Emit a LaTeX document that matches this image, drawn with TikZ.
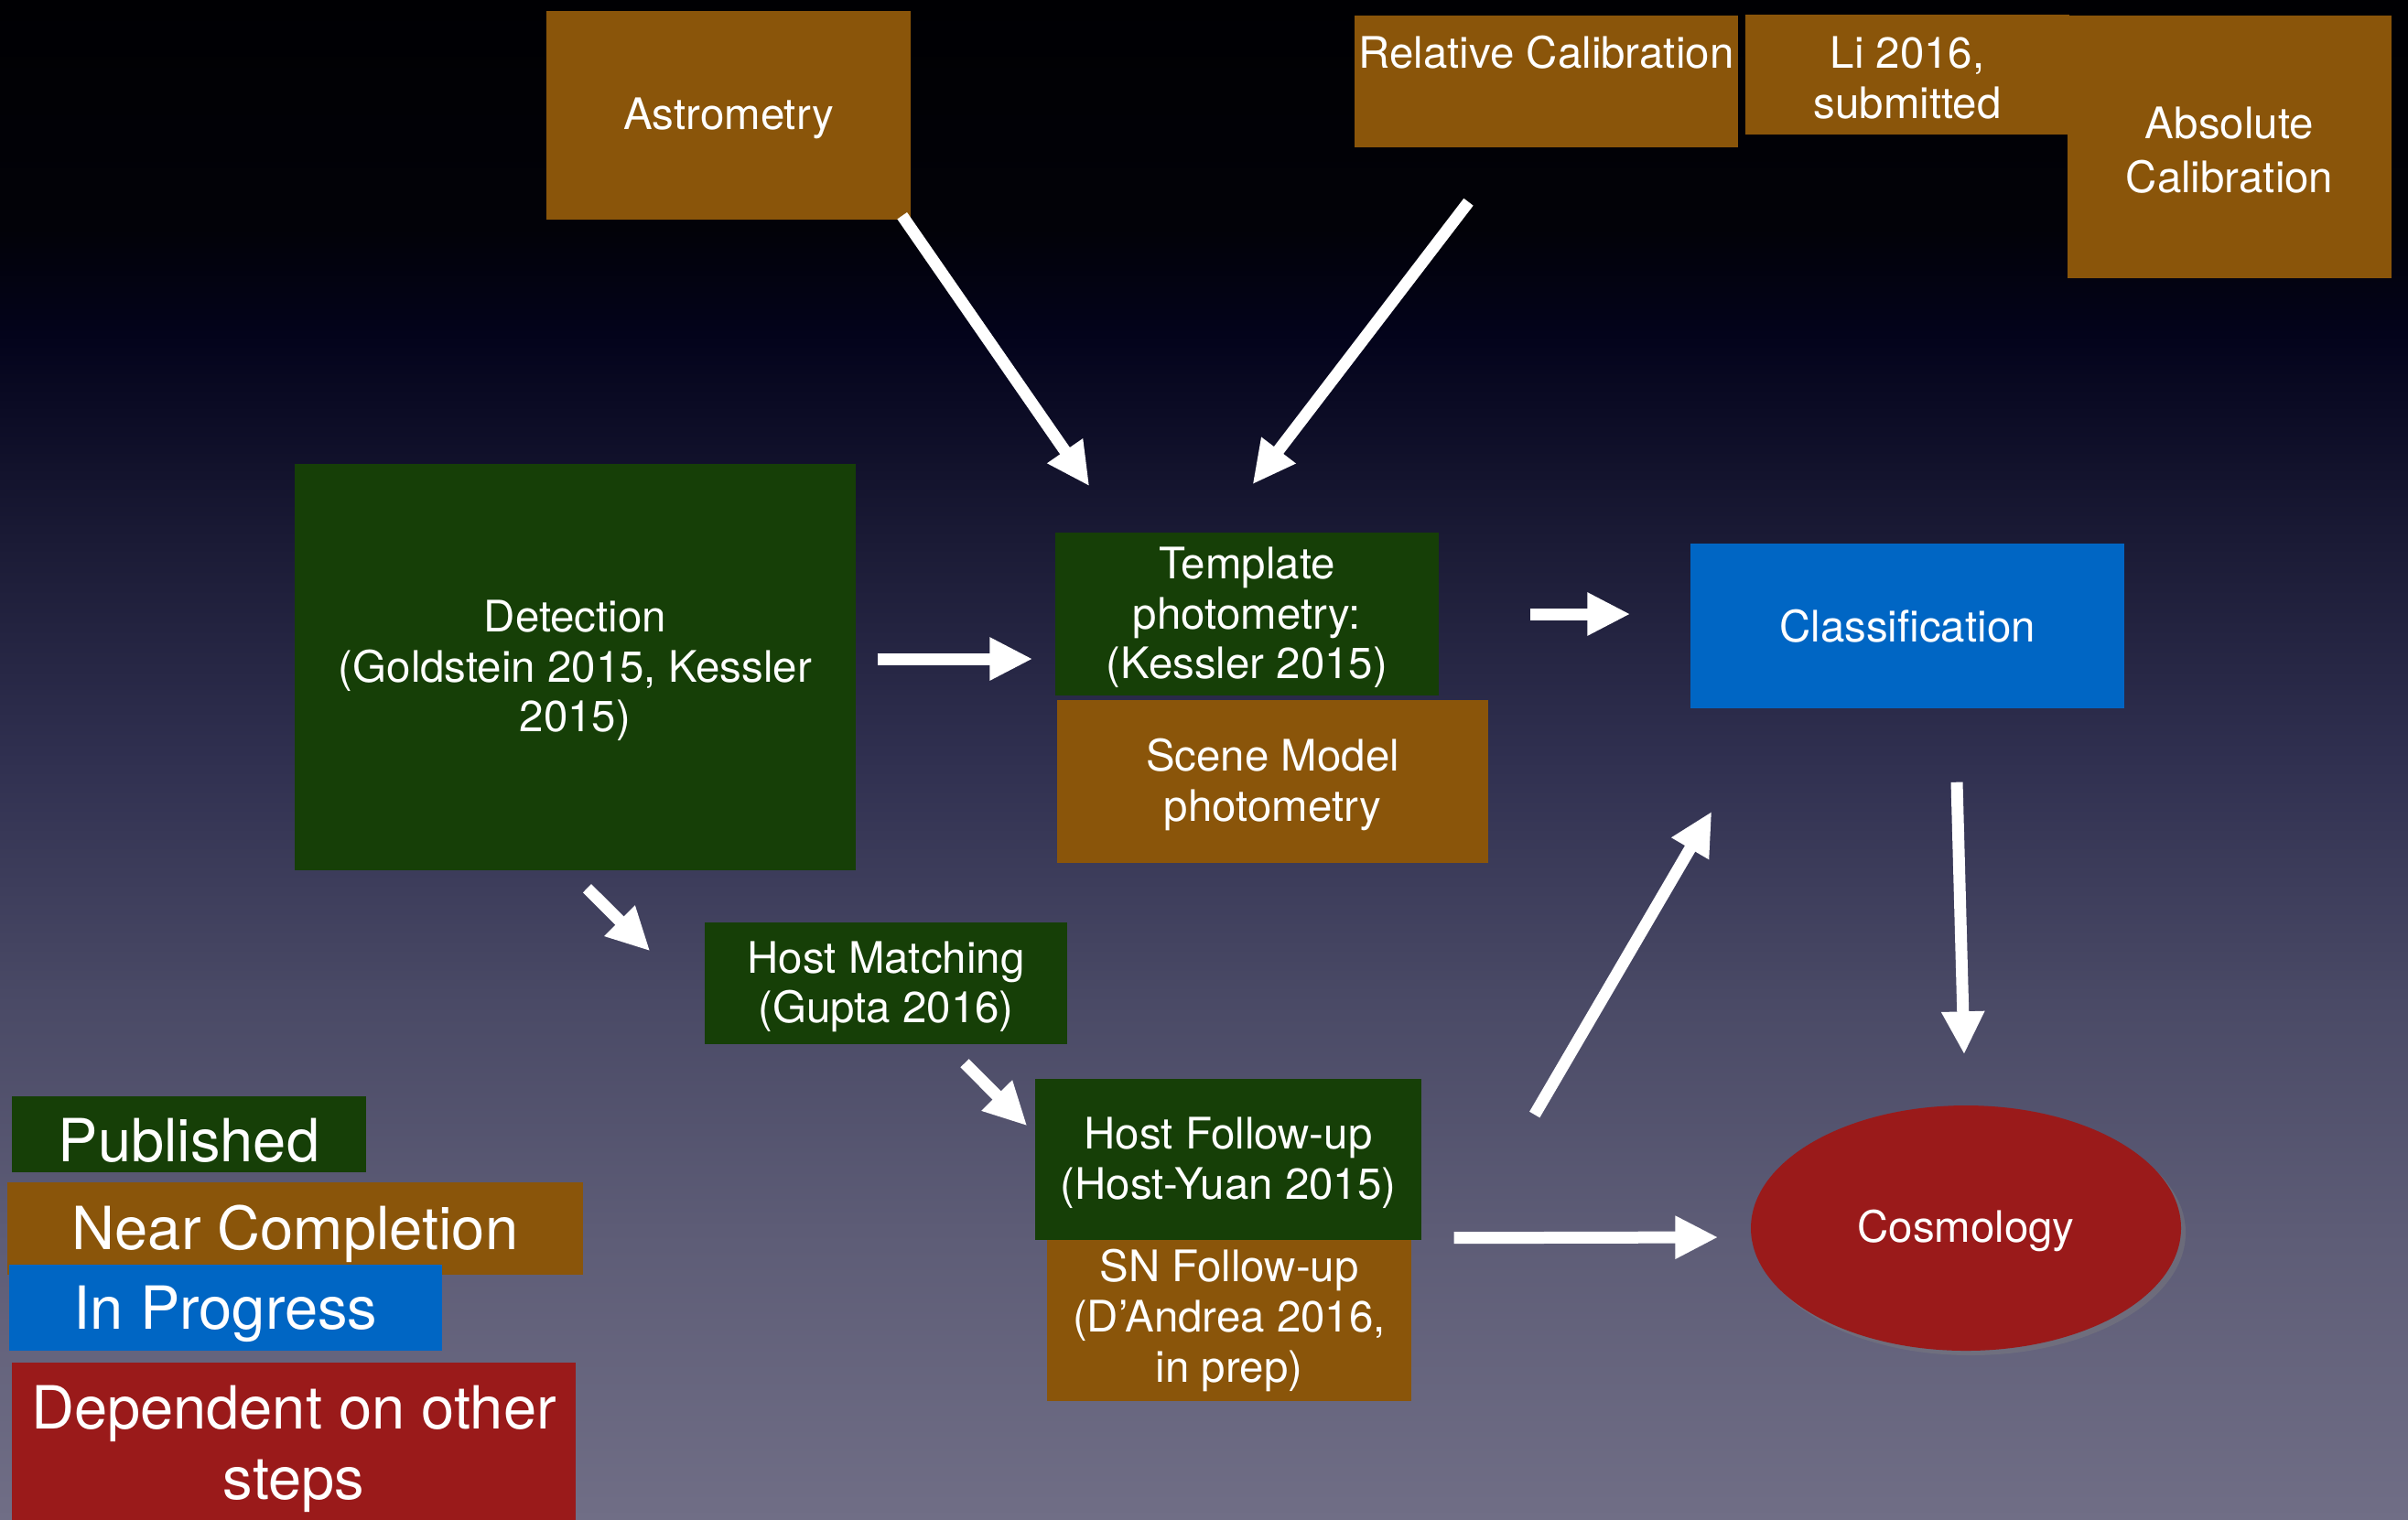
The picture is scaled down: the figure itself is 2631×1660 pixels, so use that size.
\documentclass[tikz,border=0pt]{standalone}
\usepackage{fontspec}
\setmainfont{TeX Gyre Heros}
\usetikzlibrary{arrows.meta,calc,shapes.geometric,shadows}
\definecolor{cPub}{HTML}{163F07}
\definecolor{cNear}{HTML}{8A550A}
\definecolor{cProg}{HTML}{0066C4}
\definecolor{cDep}{HTML}{9A1A1A}
% slide background: the path spans 25bp (bottom) .. 75bp (top)
\pgfdeclareverticalshading{slidebg}{100bp}{%
  rgb(0bp)=(0.439,0.431,0.525); rgb(25bp)=(0.439,0.431,0.525);
  rgb(34.5bp)=(0.365,0.361,0.463); rgb(42bp)=(0.29,0.29,0.4);
  rgb(50bp)=(0.188,0.188,0.314); rgb(57bp)=(0.106,0.106,0.212);
  rgb(64bp)=(0.012,0.012,0.106); rgb(67.5bp)=(0.008,0.008,0.031);
  rgb(75bp)=(0,0,0.012); rgb(100bp)=(0,0,0.012)}

\begin{document}
\begin{tikzpicture}[
  x=0.1mm, y=-0.1mm,
  % -- one box per status: green = published, brown = near, blue = in progress, red = dependent --
  bx/.style={rectangle, inner sep=0pt, text=white, align=center,
             font=\fontsize{13.5}{15.6}\selectfont},
  pub/.style={bx, fill=cPub},
  near/.style={bx, fill=cNear},
  prog/.style={bx, fill=cProg},
  dep/.style={bx, fill=cDep},
  % text sits a little low in its box: pad the text height (1, 2, 3 lines)
  ta/.style={text height=12pt},
  tb/.style={text height=27.6pt},
  tc/.style={text height=43.2pt},
  lg/.style={font=\fontsize{18.5}{22}\selectfont, text height=17.2pt},
  ar/.style={-{Triangle[length=4.7mm,width=4.4mm]}, line width=1.3mm, white},
]
% === canvas: 1 unit = 1 px of the slide (2631 x 1660) ===
\shade[shading=slidebg] (0,0) rectangle (2631,1660);
\useasboundingbox (0,0) rectangle (2631,1660);

% -- inputs at the top --------------------------------------
\node[near, ta, minimum width=39.8mm, minimum height=22.8mm] (astro) at (796,126) {Astrometry};
\node[near, minimum width=41.9mm, minimum height=14.4mm] (relcal) at (1689.5,89) {};
\node[bx] (reltxt) at (1689.5,57) {Relative Calibration};
\node[near, tb, minimum width=35.4mm, minimum height=13.1mm] (li) at (2084,81.5) {Li 2016,\\submitted};
\node[near, minimum width=35.4mm, minimum height=28.7mm, font=\fontsize{13.5}{16.7}\selectfont,
      text height=28.7pt] (abscal) at (2436,160.5) {Absolute\\Calibration};

% -- pipeline ------------------------------------------------
\node[pub, tc, minimum width=61.3mm, minimum height=44.4mm] (det) at (628.5,729)
  {Detection\\(Goldstein 2015, Kessler\\2015)};
\node[pub, tc, minimum width=41.9mm, minimum height=17.8mm] (tmpl) at (1362.5,671)
  {Template\\photometry:\\(Kessler 2015)};
\node[near, tb, minimum width=47.1mm, minimum height=17.8mm] (scene) at (1390.5,854)
  {Scene Model\\photometry};
\node[prog, minimum width=47.4mm, minimum height=18mm] (class) at (2084,684) {Classification};
\node[pub, tb, minimum width=39.6mm, minimum height=13.3mm] (hostm) at (968,1074.5)
  {Host Matching\\(Gupta 2016)};
\node[pub, tb, minimum width=42.2mm, minimum height=17.6mm] (hostfu) at (1342,1267)
  {Host Follow-up\\(Host-Yuan 2015)};
\node[near, minimum width=39.8mm, minimum height=17.6mm] (snfu) at (1343,1443)
  {SN Follow-up\\(D’Andrea 2016,\\in prep)};
\node[dep, ta, ellipse, minimum width=47mm, minimum height=26.8mm,
      drop shadow={shadow xshift=0.5mm, shadow yshift=-0.5mm, opacity=0.4}] (cosmo) at (2148,1342) {Cosmology};

% -- arrows --------------------------------------------------
\draw[ar] ($(astro.south east)+(-10,-5)$) -- ($(tmpl.north west)+(38,-50)$);
\draw[ar] ($(relcal.south)+(-85,59)$) -- ($(tmpl.north)+(6,-52)$);
\draw[ar] ($(det.east)+(23,-9)$) -- ($(tmpl.west)+(-24,49)$);
\draw[ar] ($(tmpl.east)+(99,0)$) -- ($(class.west)+(-65,-13)$);
\draw[ar] ($(det.south)+(13,19)$) -- ($(hostm.north west)+(-59,32)$);
\draw[ar] ($(hostm.south)+(86,20)$) -- ($(hostfu.north west)+(-8,52)$);
\draw[ar] ($(hostfu.east)+(123,-49)$) -- ($(class.south west)+(24,112)$);
\draw[ar] ($(hostfu.south east)+(35,-3)$) -- ($(cosmo.west)+(-35,10)$);
\draw[ar] ($(class.south)+(54,80)$) -- ($(cosmo.north)+(-2,-55)$);

% -- legend --------------------------------------------------
\node[pub, lg, minimum width=38.7mm, minimum height=8.3mm] (lpub) at (206.5,1239.5) {Published};
\node[near, lg, minimum width=62.9mm, minimum height=10.1mm] (lnear) at (322.5,1342.5) {Near Completion};
\node[prog, lg, minimum width=47.3mm, minimum height=9.4mm] (lprog) at (246.5,1429) {In Progress};
\node[dep, lg, text height=39.2pt, minimum width=61.6mm, minimum height=17.6mm] (ldep) at (321,1577)
  {Dependent on other\\steps};
\end{tikzpicture}
\end{document}
